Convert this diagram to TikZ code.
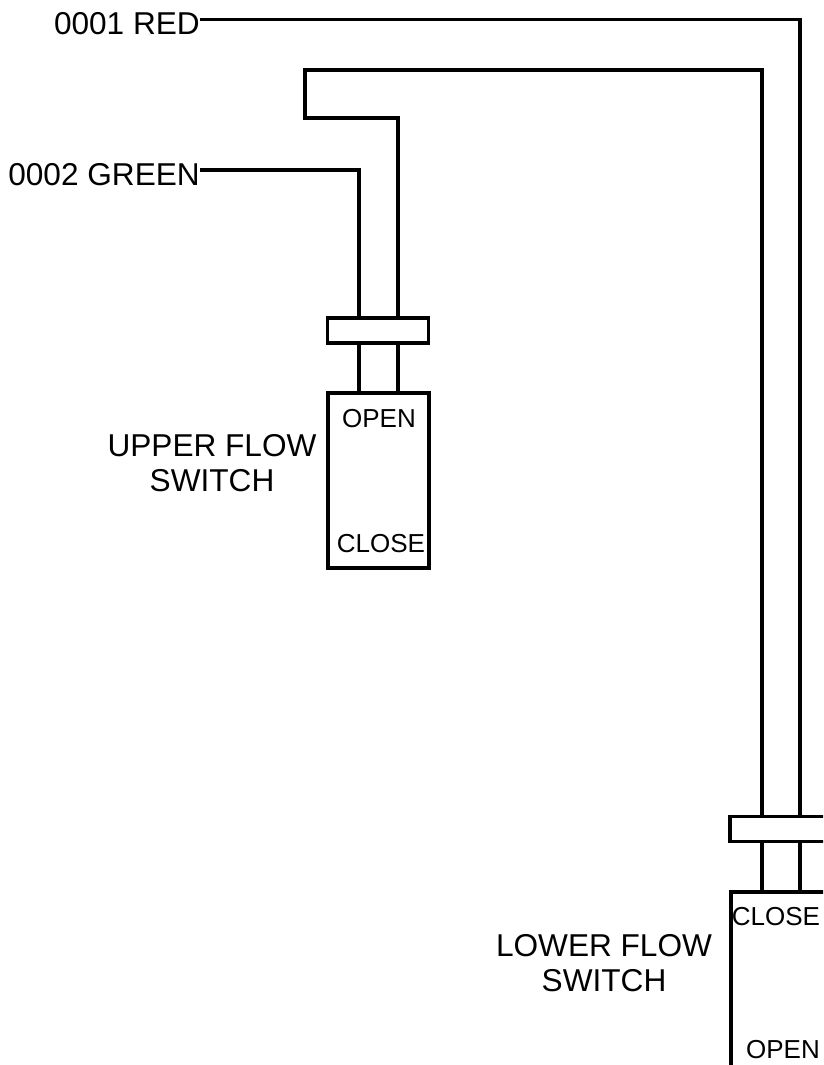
\documentclass[tikz,border=0pt]{standalone}
\usepackage{fontspec}
\setmainfont{Liberation Sans}
\begin{document}
\begin{tikzpicture}[x=1pt,y=-1pt,
  wire/.style={line width=3.2pt, line join=miter},
  part/.style={draw, line width=3.2pt, inner sep=0pt, minimum width=101pt},
  biglabel/.style={inner sep=0pt, font=\fontsize{31.6}{35}\selectfont, align=center},
  boxlabel/.style={inner sep=0pt, font=\fontsize{26}{30}\selectfont}]
\clip (0,0) rectangle (823,1065);
\fill[white] (0,0) rectangle (823,1065);
% parts
\node[part, minimum height=25pt] (ucollar) at (378,330.5) {};
\node[part, minimum height=175pt] (ubox) at (378.5,480.5) {};
\node[part, minimum height=25pt] (lcollar) at (780.5,829) {};
\node[part, minimum height=175pt] (lbox) at (781.5,979.5) {};
% labels
\node[biglabel, anchor=base east] (red) at (200,34.3) {0001 RED};
\node[biglabel, anchor=base east] (green) at (200,185) {0002 GREEN};
\node[biglabel] (upper) at (212,463.5) {UPPER FLOW\\SWITCH};
\node[biglabel] (lower) at (604,963.5) {LOWER FLOW\\SWITCH};
\node[boxlabel] (uopen) at (379,419) {OPEN};
\node[boxlabel] (uclose) at (381,544) {CLOSE};
\node[boxlabel] (lclose) at (776,917) {CLOSE};
\node[boxlabel] (lopen) at (783,1050) {OPEN};
% wires
\draw[wire] (red.base east |- 0,19.5) -- (800,19.5) -- (800,0 |- lcollar.north);
\draw[wire] (398,0 |- ucollar.north) -- (398,118) -- (305,118) -- (305,70) -- (762,70) -- (762,0 |- lcollar.north);
\draw[wire] (green.base east |- 0,170) -- (359,170) -- (359,0 |- ucollar.north);
\draw[wire] (359,0 |- ucollar.south) -- (359,0 |- ubox.north);
\draw[wire] (398,0 |- ucollar.south) -- (398,0 |- ubox.north);
\draw[wire] (762,0 |- lcollar.south) -- (762,0 |- lbox.north);
\draw[wire] (800,0 |- lcollar.south) -- (800,0 |- lbox.north);
\end{tikzpicture}
\end{document}
